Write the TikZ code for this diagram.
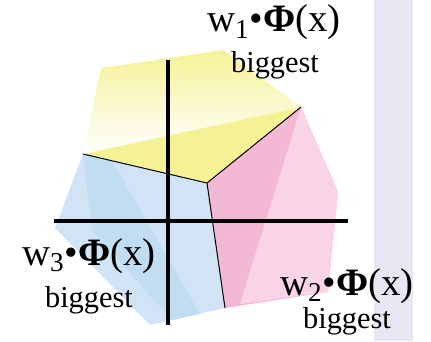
\documentclass[tikz,border=0pt]{standalone}
\usepackage{fontspec}
\setmainfont{Liberation Serif}
\usepackage{tikz}
\usetikzlibrary{positioning}
\definecolor{yel}{RGB}{245,242,150}
\definecolor{blu}{RGB}{208,228,246}
\definecolor{bludark}{RGB}{194,220,242}
\definecolor{pnk}{RGB}{243,184,212}
\definecolor{pnklight}{RGB}{248,212,230}
\definecolor{band}{RGB}{231,230,243}
\newcommand{\phix}{\textbf{Φ}(x)}

\begin{document}
\begin{tikzpicture}[
  x=0.5pt, y=-0.5pt,
  region/.style={draw=none},
  border/.style={draw=black, line width=0.5pt},
  axis/.style={draw=black, line width=1.6pt},
  wlabel/.style={anchor=base, inner sep=0pt, font=\fontsize{19.4}{23}\selectfont},
  blabel/.style={anchor=base, inner sep=0pt, font=\fontsize{15.2}{18}\selectfont}
]
\useasboundingbox (0,0) rectangle (431,341);
\fill[band] (374,0) rectangle (413,341);

% corners of the three regions
\coordinate (ctr) at (207,183);
\coordinate (tl) at (101,68);
\coordinate (tp) at (223,50);
\coordinate (rt) at (301,107);
\coordinate (lf) at (83,154);
\coordinate (ll) at (55,228);
\coordinate (bb) at (150,325);
\coordinate (bm) at (225,308);
\coordinate (pr) at (338,192);
\coordinate (pb) at (328,292);

% yellow
\shade[region, top color=yel, bottom color=white] (tl) -- (tp) -- (rt) -- (lf) -- cycle;
\fill[yel] (lf) -- (rt) -- (ctr) -- cycle;
% blue
\fill[blu] (lf) -- (ctr) -- (bm) -- (bb) -- (ll) -- cycle;
\fill[bludark] (lf) -- (112,161) -- (200,314) -- (172,320) -- (92,230) -- cycle;
% pink
\fill[pnk] (ctr) -- (rt) -- (pr) -- (pb) -- (bm) -- cycle;
\fill[pnklight] (rt) -- (pr) -- (pb) -- (240,304) -- cycle;

\draw[border] (lf) -- (ctr) -- (rt);
\draw[border] (ctr) -- (bm);

% axes
\draw[axis] (168,60) -- (168,325);
\draw[axis] (54,221) -- (348,221);

% labels
\node[wlabel] (w1) at (274,32) {w\textsubscript{1}•\phix};
\node[blabel] (b1) at (275,73) {biggest};
\node[wlabel] (w3) at (89,265) {w\textsubscript{3}•\phix};
\node[blabel] (b3) at (89,307) {biggest};
\node[wlabel] (w2) at (347,295) {w\textsubscript{2}•\phix};
\node[blabel] (b2) at (347,328) {biggest};
\end{tikzpicture}
\end{document}
